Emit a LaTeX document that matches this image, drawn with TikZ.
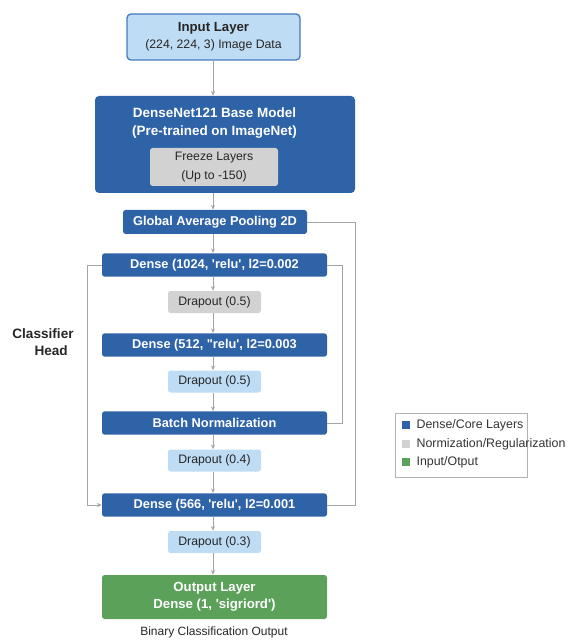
\documentclass[tikz,border=0pt]{standalone}
\usepackage{fontspec}
\setmainfont{Liberation Sans}[Ligatures=TeXOff]
\usepackage{xcolor}
\usepackage{tikz}
\usetikzlibrary{arrows.meta}

\definecolor{coreblue}{RGB}{46,99,168}
\definecolor{lightblue}{RGB}{190,220,243}
\definecolor{edgeblue}{RGB}{70,122,190}
\definecolor{regray}{RGB}{210,210,210}
\definecolor{iogreen}{RGB}{92,161,90}
\definecolor{linkgray}{RGB}{165,165,165}

\begin{document}
\begin{tikzpicture}[
  x=0.75pt, y=-0.75pt,
  corebox/.style={fill=coreblue, rounded corners=2pt, text=white,
                  font=\fontsize{9.6}{11}\selectfont\bfseries,
                  minimum width=168.75pt, minimum height=17.5pt, inner sep=1pt},
  dropbox/.style={fill=lightblue, rounded corners=2pt, text=black!85,
                  font=\fontsize{9.2}{11}\selectfont,
                  minimum width=69.75pt, minimum height=16.5pt, inner sep=1pt},
  graybox/.style={dropbox, fill=regray},
  iobox/.style={draw=edgeblue, line width=1pt, fill=lightblue, rounded corners=3pt,
                align=center, font=\fontsize{9.2}{13}\selectfont, text=black!85,
                minimum width=129.75pt, minimum height=34.5pt, inner sep=1pt},
  link/.style={draw=linkgray, line width=0.7pt},
  arr/.style={link, -{Stealth[length=3.5pt,width=3pt]}},
  legtext/.style={anchor=west, font=\fontsize{9.3}{11}\selectfont, text=black!80, inner sep=1pt},
  legkey/.style={minimum size=6pt, inner sep=0pt},
]
  \useasboundingbox (0,0) rectangle (569,641);

  % Input and base model
  \node[iobox] (inp) at (213.5,37)
    {{\fontsize{9.9}{12}\selectfont\bfseries Input Layer}\\(224, 224, 3) Image Data};
  \node[corebox, minimum width=195pt, minimum height=72.75pt, rounded corners=3pt]
    (base) at (225,144.5) {};
  \node[text=white, align=center, font=\fontsize{10.1}{13}\selectfont\bfseries]
    (basetxt) at (214.5,123) {DenseNet121 Base Model\\(Pre-trained on ImageNet)};
  \node[graybox, align=center, minimum width=96pt, minimum height=28.5pt,
        font=\fontsize{9.2}{14.5}\selectfont] (freeze) at (214,167)
    {Freeze Layers\\(Up to -150)};

  % Classifier head stack
  \node[corebox, minimum width=138pt, minimum height=18pt] (gap) at (215,222)
    {Global Average Pooling 2D};
  \node[corebox] (d1) at (214.5,265) {Dense (1024, 'relu', l2=0.002};
  \node[graybox] (do1) at (214.5,302) {Drapout (0.5)};
  \node[corebox] (d2) at (214.5,345) {Dense (512, "relu', l2=0.003};
  \node[dropbox] (do2) at (214.5,381.5) {Drapout (0.5)};
  \node[corebox] (bn) at (214.5,423) {Batch Normalization};
  \node[dropbox] (do3) at (214.5,460.5) {Drapout (0.4)};
  \node[corebox] (d3) at (214.5,505) {Dense (566, 'relu', l2=0.001};
  \node[dropbox] (do4) at (214.5,542) {Drapout (0.3)};

  % Output
  \node[corebox, fill=iogreen, align=center, minimum height=33pt,
        font=\fontsize{9.9}{13}\selectfont\bfseries] (out) at (214.5,597)
    {Output Layer\\Dense (1, 'sigriord')};
  \node[font=\fontsize{9}{11}\selectfont, text=black!85] (cap) at (214,632)
    {Binary Classification Output};

  \node[align=center, font=\fontsize{10.2}{13}\selectfont\bfseries, text=black!85]
    (head) at (43,342) {Classifier\\\hspace{1.2em}Head};

  % Straight flow
  \draw[arr] (inp.south -| 213,0) -- (base.north -| 213,0);
  \draw[arr] (base.south -| 213,0) -- (gap.north -| 213,0);
  \draw[arr] (gap.south -| 213,0) -- (d1.north -| 213,0);
  \draw[arr] (d1.south -| 213,0) -- (do1.north -| 213,0);
  \draw[arr] (do1.south -| 213,0) -- (d2.north -| 213,0);
  \draw[arr] (d2.south -| 213,0) -- (do2.north -| 213,0);
  \draw[arr] (do2.south -| 213,0) -- (bn.north -| 213,0);
  \draw[arr] (bn.south -| 213,0) -- (do3.north -| 213,0);
  \draw[arr] (do3.south -| 213,0) -- (d3.north -| 213,0);
  \draw[arr] (d3.south -| 213,0) -- (do4.north -| 213,0);
  \draw[arr] (do4.south -| 213,0) -- (out.north -| 213,0);

  % Side connections
  \coordinate (rbus) at (355,222);
  \coordinate (ibus) at (342,265);
  \coordinate (lbus) at (87,265);
  \draw[link] (gap.east) -- (rbus) |- (d3.east);
  \draw[link] (d1.east) -- (ibus) |- (bn.east);
  \draw[arr] (d1.west) -- (lbus) |- (d3.west);

  % Legend
  \node[draw=black!30, line width=0.6pt, minimum width=99pt, minimum height=48pt,
        inner sep=0pt] (leg) at (461,445) {};
  \node[legkey, fill=coreblue] (kcore) at (406,425) {};
  \node[legtext] (lcore) at (415,425) {Dense/Core Layers};
  \node[legkey, fill=regray] (kreg) at (406,444) {};
  \node[legtext] (lreg) at (415,444) {Normization/Regularization};
  \node[legkey, fill=iogreen] (kio) at (406,462) {};
  \node[legtext] (lio) at (415,462) {Input/Otput};
\end{tikzpicture}
\end{document}
